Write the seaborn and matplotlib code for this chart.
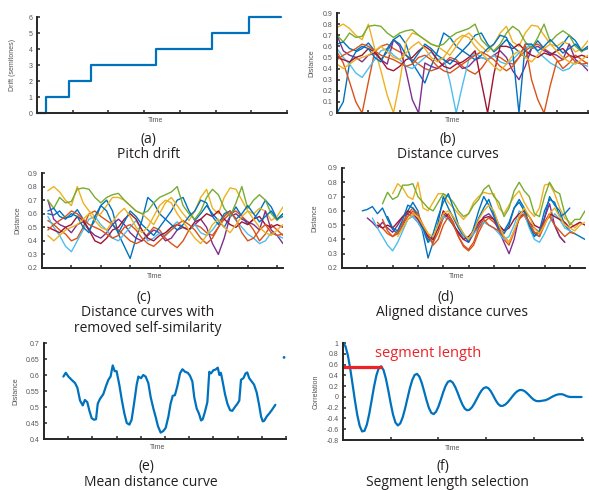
import numpy as np
import matplotlib
matplotlib.use("Agg")
import matplotlib.pyplot as plt
import seaborn as sns

W, H = 589, 490

# MATLAB default colour order, cycled over the ten query curves
BLUE, ORANGE, YELLOW, PURPLE = "#0072BD", "#D95319", "#EDB120", "#7E2F8E"
GREEN, LIGHT_BLUE, DARK_RED = "#77AC30", "#4DBEEE", "#A2142F"
RED = "#EC2227"
AXIS_COLOR = "#262626"
LABEL_COLOR = "#555555"

CURVE_NAMES = ["blue_a", "orange_a", "yellow_a", "purple", "green",
               "light_blue", "dark_red", "blue_b", "orange_b", "yellow_b"]
CURVE_COLORS = [BLUE, ORANGE, YELLOW, PURPLE, GREEN,
                LIGHT_BLUE, DARK_RED, BLUE, ORANGE, YELLOW]

# (a) pitch drift
DRIFT_TIME = [0, 0.24, 0.90, 1.50, 3.32, 4.89, 5.93, 6.84]
DRIFT_SEMITONES = [0, 1, 2, 3, 4, 5, 6, 6]

# (b)/(c) distance curves, sampled every 0.2 time units (self-similarity removed)
CURVE_STEP = 0.2
C_CURVES = {
    "blue_a": [0.60, 0.59, 0.62, 0.57, 0.58, 0.63, 0.56, 0.48, 0.55, 0.66, 0.70, 0.62, 0.45, 0.36,
               0.27, 0.42, 0.55, 0.72, 0.68, 0.60, 0.56, 0.62, 0.70, 0.72, 0.62, 0.55, 0.60, 0.66,
               0.60, 0.55, 0.50, 0.58, 0.65, 0.58, 0.52, 0.56, 0.62, 0.70, 0.65, 0.56, 0.58],
    "orange_a": [0.55, 0.52, 0.48, 0.45, 0.40, 0.42, 0.50, 0.60, 0.62, 0.58, 0.55, 0.52, 0.48, 0.44,
                 0.40, 0.38, 0.40, 0.45, 0.50, 0.48, 0.42, 0.38, 0.35, 0.40, 0.48, 0.52, 0.50, 0.46,
                 0.44, 0.50, 0.56, 0.60, 0.62, 0.58, 0.54, 0.48, 0.40, 0.45, 0.52, 0.48, 0.44],
    "yellow_a": [0.77, 0.80, 0.76, 0.70, 0.66, 0.80, 0.68, 0.62, 0.58, 0.60, 0.66, 0.72, 0.72, 0.70,
                 0.66, 0.62, 0.60, 0.56, 0.52, 0.60, 0.68, 0.72, 0.66, 0.60, 0.55, 0.62, 0.72, 0.78,
                 0.64, 0.60, 0.72, 0.79, 0.78, 0.70, 0.62, 0.60, 0.64, 0.62, 0.55, 0.58, 0.65],
    "purple": [0.70, 0.56, 0.52, 0.50, 0.46, 0.52, 0.54, 0.48, 0.44, 0.42, 0.46, 0.52, 0.56, 0.52,
               0.46, 0.42, 0.40, 0.44, 0.48, 0.46, 0.40, 0.42, 0.48, 0.50, 0.48, 0.52, 0.56, 0.50,
               0.38, 0.30, 0.42, 0.58, 0.60, 0.56, 0.54, 0.52, 0.48, 0.62, 0.48, 0.44, 0.38],
    "green": [0.70, 0.64, 0.72, 0.68, 0.69, 0.78, 0.79, 0.78, 0.72, 0.68, 0.72, 0.74, 0.75, 0.70,
              0.66, 0.62, 0.60, 0.62, 0.68, 0.72, 0.74, 0.76, 0.80, 0.66, 0.60, 0.56, 0.62, 0.72,
              0.78, 0.74, 0.64, 0.58, 0.68, 0.80, 0.64, 0.70, 0.74, 0.70, 0.60, 0.55, 0.60],
    "light_blue": [0.58, 0.50, 0.44, 0.36, 0.32, 0.40, 0.48, 0.56, 0.58, 0.52, 0.48, 0.42, 0.40, 0.45,
                   0.50, 0.55, 0.48, 0.40, 0.42, 0.46, 0.44, 0.50, 0.54, 0.50, 0.48, 0.52, 0.46, 0.44,
                   0.48, 0.54, 0.58, 0.62, 0.55, 0.50, 0.45, 0.42, 0.38, 0.40, 0.46, 0.44, 0.42],
    "dark_red": [0.50, 0.48, 0.46, 0.50, 0.52, 0.58, 0.55, 0.48, 0.40, 0.38, 0.42, 0.48, 0.50, 0.56,
                 0.60, 0.56, 0.48, 0.42, 0.40, 0.44, 0.46, 0.50, 0.52, 0.50, 0.48, 0.54, 0.56, 0.60,
                 0.58, 0.62, 0.56, 0.52, 0.50, 0.54, 0.52, 0.56, 0.58, 0.52, 0.50, 0.52, 0.50],
    "blue_b": [0.62, 0.64, 0.58, 0.56, 0.60, 0.58, 0.50, 0.46, 0.58, 0.66, 0.62, 0.52, 0.46, 0.54,
               0.62, 0.58, 0.52, 0.48, 0.44, 0.50, 0.56, 0.52, 0.48, 0.52, 0.58, 0.62, 0.70, 0.68,
               0.58, 0.52, 0.60, 0.62, 0.56, 0.60, 0.66, 0.60, 0.54, 0.58, 0.62, 0.56, 0.60],
    "orange_b": [0.48, 0.52, 0.55, 0.58, 0.62, 0.60, 0.56, 0.52, 0.50, 0.48, 0.45, 0.42, 0.44, 0.50,
                 0.52, 0.48, 0.42, 0.38, 0.36, 0.40, 0.44, 0.48, 0.52, 0.55, 0.52, 0.48, 0.42, 0.38,
                 0.42, 0.50, 0.58, 0.62, 0.56, 0.46, 0.40, 0.42, 0.48, 0.52, 0.46, 0.44, 0.45],
    "yellow_b": [0.44, 0.40, 0.44, 0.48, 0.50, 0.52, 0.56, 0.60, 0.55, 0.50, 0.48, 0.54, 0.60, 0.64,
                 0.58, 0.50, 0.46, 0.50, 0.58, 0.66, 0.70, 0.68, 0.60, 0.54, 0.48, 0.42, 0.38, 0.44,
                 0.52, 0.56, 0.50, 0.46, 0.52, 0.58, 0.62, 0.56, 0.50, 0.46, 0.44, 0.48, 0.52],
}
# (b) self-similarity dips: first sample index, values that replace the samples there
DIPS = {
    "blue_a": (0, [0.0, 0.10, 0.45, 0.55]),
    "orange_a": (1, [0.45, 0.28, 0.10, 0.0, 0.28, 0.55]),
    "yellow_a": (6, [0.58, 0.38, 0.16, 0.0, 0.28, 0.64]),
    "purple": (9, [0.66, 0.60, 0.38, 0.12, 0.0, 0.45]),
    "light_blue": (17, [0.50, 0.28, 0.0, 0.25, 0.48]),
    "dark_red": (22, [0.56, 0.28, 0.0, 0.35, 0.60]),
    "blue_b": (28, [0.55, 0.0, 0.62]),
    "orange_b": (30, [0.62, 0.30, 0.12, 0.0, 0.25, 0.46]),
}

# (d) aligned curves: start time and values every 0.2 time units
D_START = {"blue_a": 0.8, "orange_a": 1.4, "yellow_a": 2.0, "purple": 1.0, "green": 1.6,
           "light_blue": 1.2, "dark_red": 1.4, "blue_b": 1.8, "orange_b": 1.6, "yellow_b": 2.2}
D_CURVES = {
    "blue_a": [0.60, 0.61, 0.63, 0.58, 0.62, 0.54, 0.47, 0.44, 0.50, 0.60, 0.66, 0.60, 0.44, 0.27,
               0.38, 0.52, 0.70, 0.62, 0.55, 0.48, 0.42, 0.40, 0.46, 0.55, 0.62, 0.68, 0.58, 0.50,
               0.46, 0.52, 0.62, 0.66, 0.60, 0.50, 0.44, 0.42, 0.55, 0.70, 0.64, 0.60, 0.50, 0.46,
               0.44, 0.42, 0.40],
    "orange_a": [0.52, 0.48, 0.44, 0.42, 0.46, 0.52, 0.58, 0.62, 0.58, 0.50, 0.42, 0.38, 0.45, 0.55,
                 0.58, 0.52, 0.42, 0.35, 0.32, 0.36, 0.45, 0.52, 0.55, 0.52, 0.48, 0.40, 0.36, 0.45,
                 0.55, 0.57, 0.50, 0.45, 0.42, 0.50, 0.58, 0.50, 0.42, 0.38],
    "yellow_a": [0.72, 0.79, 0.76, 0.70, 0.68, 0.80, 0.62, 0.60, 0.66, 0.72, 0.72, 0.66, 0.62, 0.58,
                 0.54, 0.58, 0.66, 0.70, 0.73, 0.72, 0.72, 0.62, 0.58, 0.64, 0.70, 0.74, 0.66, 0.60,
                 0.56, 0.62, 0.78, 0.79, 0.72, 0.62, 0.55, 0.52, 0.48, 0.52],
    "purple": [0.55, 0.52, 0.48, 0.52, 0.48, 0.45, 0.50, 0.56, 0.58, 0.56, 0.52, 0.46, 0.40, 0.42,
               0.48, 0.58, 0.55, 0.50, 0.44, 0.40, 0.38, 0.44, 0.50, 0.56, 0.58, 0.54, 0.46, 0.38,
               0.30, 0.40, 0.56, 0.58, 0.52, 0.48, 0.45, 0.55, 0.65, 0.50, 0.42, 0.38],
    "green": [0.65, 0.73, 0.68, 0.70, 0.78, 0.78, 0.79, 0.70, 0.66, 0.62, 0.60, 0.66, 0.72, 0.70,
              0.66, 0.60, 0.56, 0.58, 0.64, 0.68, 0.75, 0.78, 0.70, 0.66, 0.56, 0.62, 0.74, 0.80,
              0.74, 0.70, 0.58, 0.56, 0.70, 0.80, 0.74, 0.72, 0.58, 0.50, 0.54, 0.54, 0.60],
    "light_blue": [0.55, 0.48, 0.42, 0.36, 0.32, 0.38, 0.46, 0.54, 0.56, 0.52, 0.46, 0.38, 0.40, 0.50,
                   0.56, 0.54, 0.50, 0.45, 0.42, 0.40, 0.44, 0.48, 0.52, 0.50, 0.48, 0.44, 0.40, 0.42,
                   0.50, 0.60, 0.58, 0.48, 0.40, 0.38, 0.44, 0.52, 0.58, 0.54, 0.48, 0.46, 0.44],
    "dark_red": [0.50, 0.48, 0.50, 0.48, 0.52, 0.56, 0.60, 0.58, 0.54, 0.48, 0.42, 0.40, 0.48, 0.60,
                 0.56, 0.50, 0.45, 0.40, 0.42, 0.46, 0.52, 0.55, 0.56, 0.54, 0.50, 0.46, 0.48, 0.54,
                 0.58, 0.60, 0.56, 0.50, 0.48, 0.52, 0.58, 0.56, 0.54, 0.52, 0.48, 0.50, 0.52, 0.50],
    "blue_b": [0.56, 0.48, 0.46, 0.54, 0.64, 0.62, 0.56, 0.48, 0.38, 0.44, 0.56, 0.66, 0.72, 0.62,
               0.50, 0.44, 0.38, 0.48, 0.60, 0.70, 0.64, 0.56, 0.48, 0.44, 0.50, 0.62, 0.68, 0.62,
               0.50, 0.42, 0.46, 0.60, 0.68, 0.66, 0.56, 0.58, 0.62],
    "orange_b": [0.54, 0.46, 0.42, 0.44, 0.50, 0.56, 0.60, 0.56, 0.50, 0.44, 0.36, 0.40, 0.50, 0.56,
                 0.50, 0.42, 0.36, 0.33, 0.38, 0.48, 0.54, 0.50, 0.48, 0.46, 0.42, 0.38, 0.46, 0.54,
                 0.58, 0.52, 0.45, 0.44, 0.52, 0.56, 0.50, 0.46, 0.42, 0.45, 0.44],
    "yellow_b": [0.42, 0.48, 0.54, 0.58, 0.56, 0.50, 0.44, 0.42, 0.50, 0.58, 0.60, 0.56, 0.50, 0.44,
                 0.40, 0.46, 0.54, 0.60, 0.64, 0.60, 0.50, 0.42, 0.38, 0.46, 0.56, 0.62, 0.56, 0.48,
                 0.44, 0.50, 0.58, 0.62, 0.56, 0.50, 0.48, 0.46, 0.50, 0.52],
}

# (e) mean distance curve
E_TIME = [0.80, 0.90, 1.01, 1.14, 1.28, 1.38, 1.49, 1.60, 1.69, 1.79, 1.87, 1.97, 2.07, 2.15,
          2.22, 2.31, 2.45, 2.56, 2.66, 2.75, 2.84, 2.92, 3.00, 3.11, 3.22, 3.32, 3.42, 3.53,
          3.62, 3.72, 3.83, 3.90, 4.01, 4.10, 4.20, 4.31, 4.41, 4.52, 4.61, 4.71, 4.82, 4.93,
          5.03, 5.14, 5.23, 5.32, 5.41, 5.51, 5.62, 5.72, 5.83, 5.94, 6.03, 6.13, 6.21, 6.31,
          6.40, 6.49, 6.56, 6.65, 6.75, 6.83, 6.90, 7.00, 7.09, 7.18, 7.25, 7.31, 7.38, 7.48,
          7.58, 7.69, 7.78, 7.89, 7.99, 8.07, 8.14, 8.24, 8.33, 8.40, 8.48, 8.58, 8.68, 8.79,
          8.88, 8.97, 9.04, 9.10, 9.20, 9.31, 9.41, 9.50, 9.56]
E_DIST = [0.595, 0.607, 0.595, 0.585, 0.575, 0.560, 0.520, 0.505, 0.522, 0.515, 0.490, 0.465,
          0.460, 0.462, 0.510, 0.525, 0.540, 0.565, 0.585, 0.595, 0.630, 0.612, 0.612, 0.570,
          0.520, 0.480, 0.450, 0.445, 0.460, 0.510, 0.570, 0.595, 0.590, 0.600, 0.595, 0.575,
          0.530, 0.495, 0.470, 0.440, 0.420, 0.425, 0.435, 0.470, 0.510, 0.535, 0.537, 0.565,
          0.605, 0.618, 0.610, 0.607, 0.598, 0.580, 0.530, 0.495, 0.480, 0.458, 0.462, 0.485,
          0.515, 0.610, 0.605, 0.615, 0.617, 0.623, 0.600, 0.607, 0.580, 0.540, 0.510, 0.490,
          0.488, 0.500, 0.510, 0.520, 0.585, 0.590, 0.605, 0.608, 0.590, 0.580, 0.570, 0.545,
          0.510, 0.470, 0.455, 0.457, 0.470, 0.480, 0.490, 0.500, 0.507]
E_DOT_TIME = [9.92]
E_DOT_DIST = [0.655]

# (f) autocorrelation of the mean curve, sampled every 0.05 time units
F_STEP = 0.05
F_CORR = [1.000, 0.943, 0.780, 0.533, 0.237, -0.068, -0.340, -0.539, -0.641, -0.630,
          -0.515, -0.315, -0.066, 0.188, 0.400, 0.535, 0.568, 0.496, 0.336, 0.116,
          -0.122, -0.334, -0.478, -0.530, -0.492, -0.383, -0.220, -0.031, 0.156, 0.310,
          0.405, 0.428, 0.377, 0.262, 0.105, -0.061, -0.204, -0.296, -0.319, -0.276,
          -0.181, -0.052, 0.086, 0.204, 0.280, 0.299, 0.265, 0.188, 0.083, -0.033,
          -0.138, -0.215, -0.249, -0.239, -0.196, -0.127, -0.044, 0.041, 0.114, 0.163,
          0.180, 0.159, 0.102, 0.022, -0.062, -0.130, -0.167, -0.166, -0.143, -0.102,
          -0.049, 0.009, 0.062, 0.103, 0.126, 0.128, 0.110, 0.075, 0.030, -0.016,
          -0.054, -0.076, -0.080, -0.075, -0.068, -0.060, -0.040, -0.015, 0.010, 0.030,
          0.045, 0.050, 0.048, 0.030, 0.010, 0.000, -0.002, -0.002, -0.002, -0.002, -0.002]
SEG_LENGTH = 0.79
SEG_LEVEL = 0.56


def px_box(left, right, top, bottom):
    return [left / W, 1 - bottom / H, (right - left) / W, (bottom - top) / H]


def style(ax, box, xlim, xticks, ylim, yticks, ylabels, ylabel, ylabel_x, time_x):
    left, right, top, bottom = box
    w, h = right - left, bottom - top
    ax.set_xlim(*xlim)
    ax.set_ylim(*ylim)
    ax.set_xticks(xticks)
    ax.set_xticklabels([])
    ax.set_yticks(yticks)
    ax.set_yticklabels(ylabels)
    sns.despine(ax=ax)
    for side in ("left", "bottom"):
        ax.spines[side].set_color(AXIS_COLOR)
        ax.spines[side].set_linewidth(1.4)
    ax.tick_params(direction="in", length=2.5, width=1.1, color=AXIS_COLOR,
                   labelcolor=LABEL_COLOR, labelsize=5, pad=3)
    ax.set_xlabel("Time", fontsize=5, color=LABEL_COLOR)
    ax.xaxis.set_label_coords((time_x - left) / w, -8 / h)
    ax.xaxis.label.set_va("center")
    ax.set_ylabel(ylabel, fontsize=5, color=LABEL_COLOR)
    ax.yaxis.set_label_coords((ylabel_x - left) / w, 0.5)
    ax.yaxis.label.set_va("center")


def caption(fig, x, y, text):
    fig.text(x / W, 1 - y / H, text, ha="center", va="center", fontsize=10,
             family=["Open Sans", "DejaVu Sans"], color="#231F20")


def main():
    sns.set_style("ticks")
    plt.rcParams["font.family"] = ["Liberation Sans", "DejaVu Sans"]

    fig = plt.figure(figsize=(W / 100, H / 100), dpi=100)
    b_time = np.round(np.arange(len(C_CURVES["blue_a"])) * CURVE_STEP, 2)
    dist_ticks = [0.2, 0.3, 0.4, 0.5, 0.6, 0.7, 0.8, 0.9]
    dist_labels = ["0.2", "0.3", "0.4", "0.5", "0.6", "0.7", "0.8", "0.9"]

    # (a) pitch drift
    box = (37, 287, 17, 113)
    ax = fig.add_axes(px_box(*box))
    sns.lineplot(x=DRIFT_TIME, y=DRIFT_SEMITONES, drawstyle="steps-post", color=BLUE,
                 linewidth=1.6, clip_on=False, ax=ax)
    style(ax, box, (0, 7), range(1, 8), (0, 6), range(0, 7), [str(v) for v in range(7)],
          "Drift (semitones)", 13, 156)

    # (b) raw distance curves
    box = (337, 588, 13, 113)
    ax = fig.add_axes(px_box(*box))
    for name, color in zip(CURVE_NAMES, CURVE_COLORS):
        values = list(C_CURVES[name])
        if name in DIPS:
            start, patch = DIPS[name]
            values[start:start + len(patch)] = patch
        sns.lineplot(x=b_time, y=values, color=color, linewidth=1.0, ax=ax)
    style(ax, box, (0, 8), range(1, 9), (0, 0.9), [0] + [round(0.1 * k, 1) for k in range(1, 10)],
          ["0", "0.1", "0.2", "0.3", "0.4", "0.5", "0.6", "0.7", "0.8", "0.9"],
          "Distance", 312, 453)

    # (c) self-similarity removed
    box = (42, 283, 173, 268)
    ax = fig.add_axes(px_box(*box))
    for name, color in zip(CURVE_NAMES, CURVE_COLORS):
        sns.lineplot(x=b_time, y=C_CURVES[name], color=color, linewidth=1.0, ax=ax)
    style(ax, box, (-0.2, 8.0), [k - 0.2 for k in range(1, 9)], (0.2, 0.9), dist_ticks,
          dist_labels, "Distance", 18, 155)

    # (d) aligned curves
    box = (342, 585, 168, 268)
    ax = fig.add_axes(px_box(*box))
    for name, color in zip(CURVE_NAMES, CURVE_COLORS):
        values = D_CURVES[name]
        t = D_START[name] + CURVE_STEP * np.arange(len(values))
        sns.lineplot(x=t, y=values, color=color, linewidth=1.0, ax=ax)
    style(ax, box, (0, 9.6), range(1, 10), (0.2, 0.9), dist_ticks, dist_labels,
          "Distance", 315, 457)

    # (e) mean distance curve
    box = (44, 286, 343, 439)
    ax = fig.add_axes(px_box(*box))
    sns.lineplot(x=E_TIME, y=E_DIST, color=BLUE, linewidth=1.6, ax=ax)
    sns.scatterplot(x=E_DOT_TIME, y=E_DOT_DIST, color=BLUE, s=4, edgecolor="none", ax=ax)
    style(ax, box, (0, 10), range(1, 11), (0.4, 0.7),
          [0.4, 0.45, 0.5, 0.55, 0.6, 0.65, 0.7],
          ["0.4", "0.45", "0.5", "0.55", "0.6", "0.65", "0.7"], "Distance", 16, 158)

    # (f) segment length selection
    box = (343, 583, 343, 440)
    ax = fig.add_axes(px_box(*box))
    f_time = np.round(np.arange(len(F_CORR)) * F_STEP, 2)
    sns.lineplot(x=f_time, y=F_CORR, color=BLUE, linewidth=1.6, clip_on=False, ax=ax)
    sns.lineplot(x=[0, SEG_LENGTH], y=[SEG_LEVEL, SEG_LEVEL], color=RED, linewidth=2.3,
                 clip_on=False, ax=ax)
    ax.text(0.67, 0.80, "segment length", color=RED, fontsize=10.5, va="center",
            family=["Open Sans", "DejaVu Sans"])
    f_ticks = [round(-0.8 + 0.2 * k, 1) for k in range(10)]
    f_labels = ["-0.8", "-0.6", "-0.4", "-0.2", "0", "0.2", "0.4", "0.6", "0.8", "1"]
    style(ax, box, (0, 5.03), range(1, 6), (-0.8, 1.0), f_ticks, f_labels,
          "Correlation", 316, 453)

    caption(fig, 148, 140, "(a)")
    caption(fig, 149, 155, "Pitch drift")
    caption(fig, 448, 140, "(b)")
    caption(fig, 448, 155, "Distance curves")
    caption(fig, 144, 297, "(c)")
    caption(fig, 148, 313, "Distance curves with")
    caption(fig, 148, 329, "removed self-similarity")
    caption(fig, 446, 297, "(d)")
    caption(fig, 452, 313, "Aligned distance curves")
    caption(fig, 146, 466, "(e)")
    caption(fig, 151, 482, "Mean distance curve")
    caption(fig, 443, 466, "(f)")
    caption(fig, 447, 482, "Segment length selection")

    fig.savefig("out.png", dpi=100, facecolor="white")
    plt.close(fig)


if __name__ == "__main__":
    main()
